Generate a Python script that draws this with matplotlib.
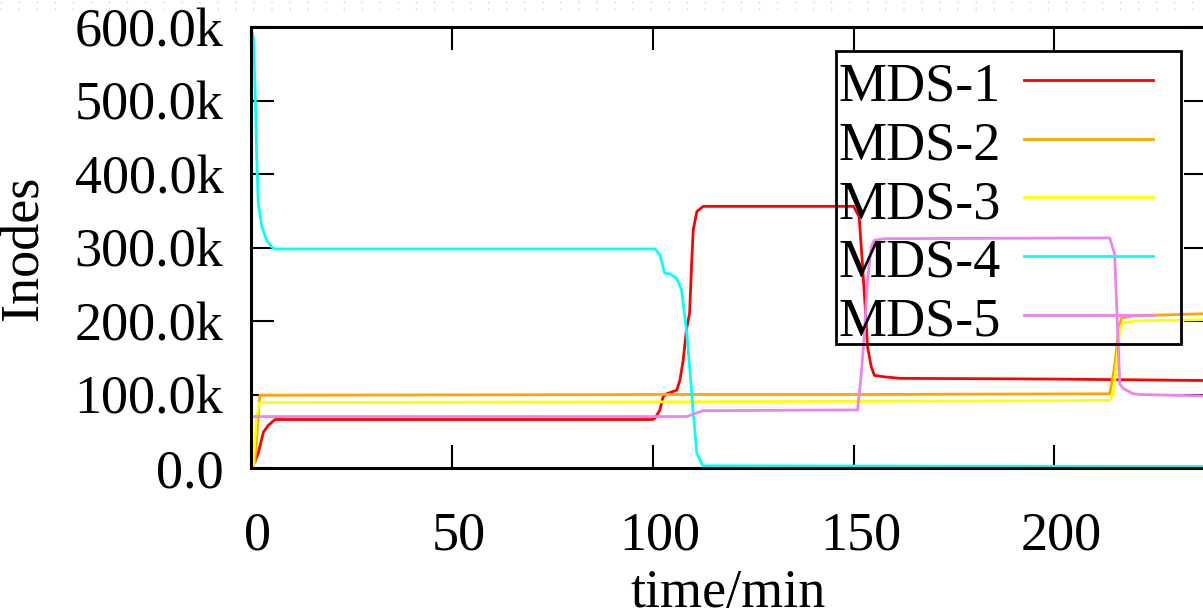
import matplotlib
matplotlib.use("Agg")
import matplotlib.pyplot as plt
import matplotlib.transforms as mtransforms
from matplotlib.lines import Line2D
from matplotlib.patches import Rectangle
from matplotlib.ticker import FuncFormatter
import numpy as np

plt.rcParams['font.family'] = ['Liberation Serif', 'DejaVu Serif']

# inode counts per MDS, in thousands
mds1_t = [0, 1, 1.8, 3.1, 4.3, 6, 100, 100.6, 101.8, 102.6, 103.5, 106, 106.8, 107.6,
          108.4, 109.2, 109.7, 110.1, 111, 112.6, 150, 151.4, 152.2, 153, 153.5, 154.4,
          155.2, 157.7, 161.6, 200, 238]
mds1_k = [3, 9, 20, 49, 58, 66, 66, 68, 79, 97, 101, 106, 120, 147,
          188, 211, 279, 324, 349, 356, 356, 342, 279, 211, 165, 138,
          126, 124, 122, 121, 119]

mds2_t = [0.5, 1, 2.2, 100, 150, 213.8, 215, 216, 216.7, 219.7, 238]
mds2_k = [2, 11, 99, 100, 100, 101, 138, 188, 204, 207, 210]

mds3_t = [0.5, 1.4, 2.2, 100, 200, 213.8, 214.7, 215.5, 216.3, 217, 219.7, 238]
mds3_k = [2, 70, 89, 90, 91.5, 92, 101, 142, 188, 197, 200, 202]

mds4_t = [0, 0.6, 1.0, 1.4, 1.8, 2.7, 3.9, 5.1, 6, 100.6, 101.8, 103, 104.3, 106,
          107.2, 108.4, 109.2, 110.1, 111, 112.5, 238]
mds4_k = [600, 586, 519, 428, 360, 328, 310, 301, 298, 298, 290, 265, 264, 258,
          242, 188, 138, 75, 20, 3, 2]

mds5_t = [0, 108.5, 111, 112.6, 151, 151.8, 152.6, 153.5, 154.4, 155.2, 157.7,
          213.8, 215, 216.3, 217.2, 219.6, 221.3, 238]
mds5_k = [70, 70, 75, 78, 79, 120, 174, 256, 301, 310, 312,
          313, 291, 114, 108, 101, 100, 98]

labels = ['MDS-1', 'MDS-2', 'MDS-3', 'MDS-4', 'MDS-5']
colors = ['#ff0000', '#ffa500', '#ffff00', '#00ffff', '#ee82ee']
series = [(mds1_t, mds1_k), (mds2_t, mds2_k), (mds3_t, mds3_k),
          (mds4_t, mds4_k), (mds5_t, mds5_k)]

W, H = 1203, 608
fig = plt.figure(figsize=(W / 100, H / 100), dpi=100)

# axes box in pixels; right edge runs past the picture like the original crop
left, right, top, bottom = 251, 1207, 27, 468
ax = fig.add_axes([left / W, 1 - bottom / H, (right - left) / W, (bottom - top) / H])

for (t, k), c, lab in zip(series, colors, labels):
    ax.plot(t, np.array(k) * 1000, color=c, lw=2, label=lab)

ax.set_xlim(0, 238)
ax.set_ylim(0, 600000)
ax.set_xticks([0, 50, 100, 150, 200])
ax.set_yticks(np.arange(0, 600001, 100000))
ax.yaxis.set_major_formatter(FuncFormatter(lambda v, p: '0.0' if v == 0 else f'{v / 1000:.1f}k'))

ax.tick_params(direction='in', length=16.5, width=1.5, top=True, right=True,
               labelsize=39, colors='black')
ax.tick_params(axis='y', pad=20)
ax.tick_params(axis='x', pad=31)
for s in ax.spines.values():
    s.set_linewidth(2.2)

# gnuplot nudges the x labels a bit to the right
shift = mtransforms.ScaledTranslation(0.07, 0, fig.dpi_scale_trans)
for lab in ax.get_xticklabels():
    lab.set_transform(lab.get_transform() + shift)

fig.text(24 / W, 1 - 248 / H, 'Inodes', rotation=90, fontsize=39, ha='center', va='center')
fig.text(728 / W, 1 - 607 / H, 'time/min', fontsize=39, ha='center', va='baseline')

# gnuplot style key: label left, sample right, transparent box
box = Rectangle((836 / W, 1 - 344 / H), (1181 - 836) / W, (344 - 50.7) / H,
                transform=fig.transFigure, fill=False, ec='black', lw=2, zorder=5)
fig.add_artist(box)
for i, (lab, c) in enumerate(zip(labels, colors)):
    yc = 80 + 58.67 * i
    fig.text(838 / W, 1 - (yc + 20.7) / H, lab, fontsize=39, ha='left', va='baseline', zorder=6)
    fig.add_artist(Line2D([1024 / W, 1153 / W], [1 - yc / H, 1 - yc / H],
                          transform=fig.transFigure, color=c, lw=2, zorder=6))

# faint dotted border from the screenshot
for yy in (2, 9):
    fig.add_artist(Line2D([0, 1], [1 - yy / H, 1 - yy / H], transform=fig.transFigure,
                          color='#cccccc', lw=1, ls=(0, (1, 12))))

fig.savefig('out.png', dpi=100)
